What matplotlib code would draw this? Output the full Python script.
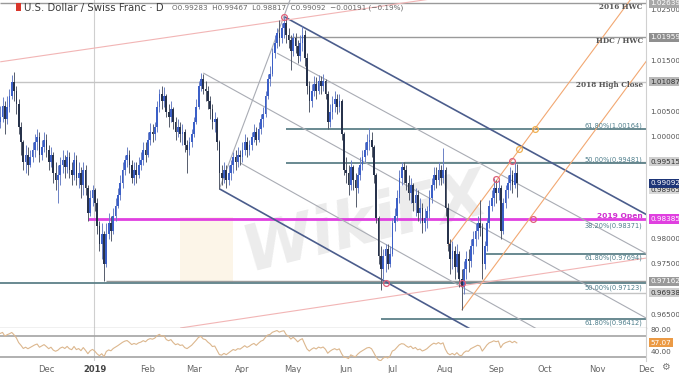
import numpy as np
import pandas as pd
import matplotlib
matplotlib.use("Agg")
import matplotlib.pyplot as plt
import matplotlib.transforms as mtransforms
from matplotlib.patches import Rectangle

# ---------------- data ----------------
start_date = "2018-11-05"
warmup_closes = [0.9830, 0.9850, 0.9865, 0.9855, 0.9870, 0.9880, 0.9900, 0.9890,
                 0.9880, 0.9900, 0.9920, 0.9930, 0.9950, 0.9935, 0.9955, 0.9960,
                 0.9950, 0.9975, 0.9990, 1.0005, 1.0040, 1.0075, 1.0010, 1.0030]

closes = [
    1.0040, 1.0062, 1.0035, 1.0060, 1.0080,  1.0108, 1.0090, 1.0065, 1.0020, 0.9990,
    0.9950, 0.9965, 0.9945, 0.9960, 0.9975,  0.9990, 1.0000, 0.9965, 0.9980, 0.9995,
    0.9975, 0.9950, 0.9965, 0.9930, 0.9915,  0.9925, 0.9945, 0.9955, 0.9940, 0.9960,
    0.9935, 0.9925, 0.9955, 0.9920, 0.9930,  0.9905, 0.9935, 0.9900, 0.9850, 0.9880,
    0.9895, 0.9870, 0.9825, 0.9790, 0.9810,  0.9750, 0.9810, 0.9830, 0.9815, 0.9845,
    0.9865, 0.9885, 0.9910, 0.9935, 0.9955,  0.9965, 0.9945, 0.9920, 0.9935, 0.9925,
    0.9945, 0.9955, 0.9975, 0.9965, 0.9995,  1.0010, 1.0005, 1.0020, 1.0060, 1.0085,
    1.0070, 1.0080, 1.0050, 1.0040, 1.0055,  1.0030, 1.0010, 1.0020, 1.0005, 1.0010,
    0.9985, 0.9975, 0.9990, 1.0005, 1.0030,  1.0060, 1.0100, 1.0115, 1.0095, 1.0090,
    1.0070, 1.0055, 1.0030, 1.0035, 0.9990,  0.9930, 0.9920, 0.9935, 0.9915, 0.9930,
    0.9945, 0.9960, 0.9950, 0.9965, 0.9960,  0.9975, 0.9990, 0.9975, 0.9985, 1.0000,
    1.0010, 0.9995, 1.0015, 1.0035, 1.0045,  1.0080, 1.0115, 1.0125, 1.0165, 1.0185,
    1.0205, 1.0195, 1.0215, 1.0225, 1.0200,  1.0190, 1.0170, 1.0195, 1.0180, 1.0160,
    1.0185, 1.0200, 1.0155, 1.0100, 1.0070,  1.0090, 1.0105, 1.0090, 1.0110, 1.0100,
    1.0110, 1.0085, 1.0030, 1.0050, 1.0065,  1.0075, 1.0060, 1.0070, 1.0005, 0.9935,
    0.9930, 0.9905, 0.9940, 0.9915, 0.9900,  0.9925, 0.9945, 0.9960, 0.9975, 0.9990,
    0.9995, 0.9980, 0.9925, 0.9840, 0.9765,  0.9740, 0.9765, 0.9780, 0.9750, 0.9770,
    0.9830, 0.9845, 0.9880, 0.9920, 0.9940,  0.9935, 0.9910, 0.9890, 0.9905, 0.9870,
    0.9885, 0.9850, 0.9860, 0.9830, 0.9840,  0.9855, 0.9880, 0.9905, 0.9925, 0.9915,
    0.9935, 0.9920, 0.9935, 0.9860, 0.9790,  0.9760, 0.9775, 0.9745, 0.9770, 0.9720,
    0.9705, 0.9740, 0.9760, 0.9755, 0.9785,  0.9800, 0.9815, 0.9830, 0.9820, 0.9750,
    0.9785, 0.9830, 0.9865, 0.9880, 0.9900,  0.9890, 0.9900, 0.9815, 0.9870, 0.9895,
    0.9910, 0.9925, 0.9905, 0.99283, 0.99092]

highs = [
    1.0062, 1.0078, 1.0070, 1.0080, 1.0095,  1.0122, 1.0128, 1.0100, 1.0075, 1.0030,
    0.9995, 0.9985, 0.9980, 0.9975, 0.9990,  1.0005, 1.0015, 1.0010, 0.9995, 1.0010,
    1.0005, 0.9985, 0.9980, 0.9970, 0.9950,  0.9945, 0.9960, 0.9975, 0.9965, 0.9975,
    0.9970, 0.9950, 0.9970, 0.9965, 0.9950,  0.9940, 0.9950, 0.9945, 0.9905, 0.9895,
    0.9905, 0.9900, 0.9880, 0.9835, 0.9830,  0.9815, 0.9830, 0.9850, 0.9845, 0.9860,
    0.9880, 0.9900, 0.9925, 0.9950, 0.9965,  0.9980, 0.9975, 0.9955, 0.9950, 0.9950,
    0.9960, 0.9970, 0.9990, 0.9990, 1.0010,  1.0028, 1.0025, 1.0030, 1.0070, 1.0095,
    1.0100, 1.0098, 1.0085, 1.0065, 1.0070,  1.0060, 1.0040, 1.0035, 1.0030, 1.0025,
    1.0015, 0.9995, 1.0000, 1.0015, 1.0040,  1.0075, 1.0110, 1.0126, 1.0125, 1.0110,
    1.0100, 1.0080, 1.0065, 1.0050, 1.0040,  0.9995, 0.9945, 0.9950, 0.9945, 0.9945,
    0.9955, 0.9970, 0.9975, 0.9980, 0.9975,  0.9990, 1.0005, 1.0000, 0.9995, 1.0010,
    1.0025, 1.0020, 1.0030, 1.0045, 1.0060,  1.0090, 1.0125, 1.0140, 1.0175, 1.0200,
    1.0215, 1.0230, 1.0225, 1.0237, 1.0232,  1.0215, 1.0200, 1.0205, 1.0205, 1.0190,
    1.0200, 1.0218, 1.0210, 1.0165, 1.0110,  1.0105, 1.0120, 1.0118, 1.0122, 1.0120,
    1.0125, 1.0115, 1.0090, 1.0065, 1.0080,  1.0090, 1.0085, 1.0085, 1.0075, 1.0010,
    0.9960, 0.9945, 0.9955, 0.9945, 0.9930,  0.9940, 0.9960, 0.9975, 0.9990, 1.0005,
    1.0018, 1.0010, 0.9985, 0.9930, 0.9845,  0.9785, 0.9780, 0.9790, 0.9790, 0.9785,
    0.9840, 0.9860, 0.9895, 0.9935, 0.9951,  0.9950, 0.9945, 0.9925, 0.9920, 0.9910,
    0.9900, 0.9895, 0.9880, 0.9870, 0.9860,  0.9865, 0.9895, 0.9920, 0.9940, 0.9940,
    0.9950, 0.9945, 0.9978, 0.9940, 0.9870,  0.9800, 0.9795, 0.9785, 0.9790, 0.9775,
    0.9740, 0.9755, 0.9775, 0.9780, 0.9800,  0.9815, 0.9830, 0.9845, 0.9876, 0.9830,
    0.9795, 0.9840, 0.9875, 0.9895, 0.9919,  0.9915, 0.9915, 0.9905, 0.9880, 0.9905,
    0.9925, 0.9940, 0.9935, 0.9953, 0.99467]

lows = [
    1.0018, 1.0030, 1.0005, 1.0025, 1.0050,  1.0075, 1.0070, 1.0045, 1.0005, 0.9965,
    0.9935, 0.9930, 0.9925, 0.9940, 0.9950,  0.9960, 0.9975, 0.9950, 0.9955, 0.9970,
    0.9960, 0.9935, 0.9940, 0.9910, 0.9895,  0.9870, 0.9905, 0.9930, 0.9920, 0.9930,
    0.9920, 0.9905, 0.9915, 0.9905, 0.9900,  0.9880, 0.9885, 0.9885, 0.9835, 0.9845,
    0.9865, 0.9855, 0.9810, 0.9775, 0.9760,  0.9716, 0.9745, 0.9800, 0.9795, 0.9810,
    0.9835, 0.9860, 0.9875, 0.9900, 0.9925,  0.9940, 0.9930, 0.9910, 0.9905, 0.9910,
    0.9920, 0.9935, 0.9945, 0.9950, 0.9960,  0.9985, 0.9990, 0.9995, 1.0010, 1.0050,
    1.0055, 1.0060, 1.0040, 1.0020, 1.0030,  1.0015, 0.9995, 1.0000, 0.9990, 0.9985,
    0.9970, 0.9930, 0.9965, 0.9980, 1.0000,  1.0025, 1.0055, 1.0090, 1.0085, 1.0070,
    1.0055, 1.0035, 1.0015, 1.0010, 0.9975,  0.9898, 0.9905, 0.9910, 0.9900, 0.9905,
    0.9915, 0.9930, 0.9935, 0.9940, 0.9945,  0.9950, 0.9965, 0.9960, 0.9965, 0.9975,
    0.9990, 0.9985, 0.9990, 1.0005, 1.0020,  1.0040, 1.0075, 1.0100, 1.0120, 1.0155,
    1.0175, 1.0180, 1.0185, 1.0195, 1.0185,  1.0175, 1.0132, 1.0160, 1.0165, 1.0145,
    1.0150, 1.0170, 1.0140, 1.0085, 1.0050,  1.0060, 1.0080, 1.0075, 1.0085, 1.0085,
    1.0090, 1.0075, 1.0015, 1.0020, 1.0035,  1.0050, 1.0045, 1.0050, 0.9995, 0.9925,
    0.9910, 0.9885, 0.9895, 0.9895, 0.9862,  0.9890, 0.9915, 0.9935, 0.9950, 0.9965,
    0.9975, 0.9960, 0.9910, 0.9830, 0.9750,  0.9699, 0.9720, 0.9735, 0.9740, 0.9745,
    0.9765, 0.9815, 0.9835, 0.9870, 0.9905,  0.9910, 0.9895, 0.9875, 0.9870, 0.9855,
    0.9845, 0.9835, 0.9830, 0.9812, 0.9815,  0.9820, 0.9840, 0.9870, 0.9895, 0.9900,
    0.9905, 0.9905, 0.9910, 0.9845, 0.9775,  0.9730, 0.9740, 0.9720, 0.9735, 0.9705,
    0.9659, 0.9690, 0.9720, 0.9735, 0.9745,  0.9770, 0.9785, 0.9800, 0.9805, 0.9720,
    0.9740, 0.9775, 0.9820, 0.9855, 0.9865,  0.9870, 0.9875, 0.9800, 0.9810, 0.9860,
    0.9880, 0.9895, 0.9890, 0.9900, 0.98817]

# horizontal levels: (price, start date, kind)
levels = [
    (1.02639, "2018-11-05", "gray"),
    (1.01959, "2019-04-29", "gray"),
    (1.01087, "2018-11-13", "lgray"),
    (1.00164, "2019-04-26", "fib"),
    (0.99515, "2019-07-08", "lgray"),
    (0.99481, "2019-04-26", "fib"),
    (0.98385, "2018-12-27", "open"),
    (0.97694, "2019-08-26", "fib"),
    (0.97162, "2019-01-08", "gray"),
    (0.97123, "2018-11-05", "fib"),
    (0.96938, "2019-08-12", "lgray"),
    (0.96412, "2019-06-24", "fib"),
]
level_texts = [
    ("2016 HWC", 1.02639, -3.0, "name"),
    ("HDC / HWC", 1.01959, -2.6, "name"),
    ("2018 High Close", 1.01087, -2.4, "name"),
    ("61.80%(1.00164)", 1.00164, 2.0, "fib"),
    ("50.00%(0.99481)", 0.99481, 2.4, "fib"),
    ("2019 Open", 0.98385, 2.2, "open"),
    ("38.20%(0.98371)", 0.98371, -4.0, "fib"),
    ("61.80%(0.97694)", 0.97694, -2.4, "fib"),
    ("50.00%(0.97123)", 0.97123, -3.4, "fib"),
    ("61.80%(0.96412)", 0.96412, -2.4, "fib"),
]
# trend / channel lines: (date1, price1, date2, price2, kind)
trendlines = [
    ("2019-04-25", 1.0237, "2019-11-29", 0.9850, "navy"),
    ("2019-03-07", 1.0126, "2019-11-29", 0.9646, "grayline"),
    ("2019-04-22", 1.0165, "2019-11-29", 0.9773, "grayline"),
    ("2019-03-18", 0.9898, "2019-08-30", 0.9596, "navy"),
    ("2019-03-29", 0.9949, "2019-09-30", 0.9616, "grayline"),
    ("2019-03-18", 0.9898, "2019-04-24", 1.0226, "grayline"),
    ("2019-08-02", 0.9785, "2019-09-25", 1.0018, "orange"),
    ("2019-08-12", 0.9659, "2019-11-29", 1.0143, "orange"),
    ("2018-11-05", 1.0148, "2019-07-19", 1.0270, "pink"),
    ("2019-02-21", 0.9624, "2019-11-29", 0.9761, "pink"),
]
markers = [
    ("2019-04-25", 1.0237, "red"), ("2019-06-26", 0.9712, "red"),
    ("2019-08-12", 0.9712, "red"), ("2019-09-02", 0.9917, "red"),
    ("2019-09-11", 0.9952, "red"), ("2019-09-16", 0.9976, "orange"),
    ("2019-09-25", 1.0016, "orange"), ("2019-09-24", 0.98385, "red"),
]
axis_plain = [1.02500, 1.01500, 1.00500, 1.00000, 0.98000, 0.97500, 0.96500]
axis_boxes = [
    (1.02639, "#a8a8a8", "white"), (1.01959, "#8f8f8f", "white"),
    (1.01087, "#b9b9b9", "#333333"), (0.99515, "#cfcfcf", "#333333"),
    (0.98965, "#d8d8d8", "#333333"), (0.99092, "#1d3577", "white"),
    (0.98385, "#e040e0", "white"), (0.97162, "#9a9a9a", "white"),
    (0.96938, "#cfcfcf", "#333333"),
]
month_labels = [("2018-12-03", "Dec"), ("2019-01-01", "2019"), ("2019-02-01", "Feb"),
                ("2019-03-01", "Mar"), ("2019-04-01", "Apr"), ("2019-05-01", "May"),
                ("2019-06-03", "Jun"), ("2019-07-01", "Jul"), ("2019-08-01", "Aug"),
                ("2019-09-02", "Sep"), ("2019-10-01", "Oct"), ("2019-11-01", "Nov"),
                ("2019-12-02", "Dec")]
rsi_last_label = 57.07
header = "U.S. Dollar / Swiss Franc · D"
ohlc_text = "O0.99283  H0.99467  L0.98817  C0.99092  −0.00191 (−0.19%)"

# ---------------- figure ----------------
W, H = 679, 373
fig = plt.figure(figsize=(W / 100, H / 100), dpi=100)
fig.patch.set_facecolor("white")
PX_R, PX_MB, PX_RB = 646, 328, 361
ax = fig.add_axes([0, 1 - PX_MB / H, PX_R / W, PX_MB / H])
rax = fig.add_axes([0, 1 - PX_RB / H, PX_R / W, (PX_RB - PX_MB) / H])

cal = pd.bdate_range(start_date, "2019-12-31")
def bar(d):
    return float(cal.get_loc(pd.Timestamp(d)))

n = len(closes)
xs = np.arange(n)
o = np.array([warmup_closes[-1]] + closes[:-1])
c = np.array(closes)
h = np.array(highs)
l = np.array(lows)

XR = PX_R / 2.308
ax.set_xlim(-0.1, XR)
ax.set_ylim(0.96240, 1.02697)
rax.set_xlim(-0.1, XR)
rax.set_ylim(22.5, 84.5)

colors = {"gray": "#9a9a9a", "lgray": "#c4c4c4", "fib": "#5d8088", "open": "#e040e0",
          "navy": "#4b5d8c", "grayline": "#a9acb4", "orange": "#f2a872", "pink": "#f2b5b5",
          "red": "#e0607a"}

# horizontal levels
for p, d, k in levels:
    lw = 2.0 if k == "open" else (1.3 if k == "fib" else 1.0)
    ax.hlines(p, bar(d), XR, colors=colors[k], lw=lw, zorder=2)

# trend lines (extended to right edge)
for d1, p1, d2, p2, k in trendlines:
    b1, b2 = bar(d1), bar(d2)
    slope = (p2 - p1) / (b2 - b1)
    xe = XR + 1
    lw = 1.2 if k == "navy" else 0.8
    ax.plot([b1, xe], [p1, p1 + slope * (xe - b1)], color=colors[k], lw=lw, zorder=2,
            solid_capstyle="butt")

# 2019 separator
ysep = bar("2019-01-01") - 0.5
ax.axvline(ysep, color="#cfcfcf", lw=0.8, zorder=1)
rax.axvline(ysep, color="#cfcfcf", lw=0.8, zorder=1)

# watermark
ax.text(bar("2019-06-24") - 7, 0.9830, "WikiFX", fontsize=46, fontweight="bold",
        color="#c8c8c8", alpha=0.35, rotation=14, ha="center", va="center", zorder=1,
        style="italic")
ax.add_patch(Rectangle((bar("2019-02-21"), 0.9713), 23, 0.0130,
                       fc="#f2d49a", ec="none", alpha=0.22, zorder=1))

# candles
up = c >= o
body_col = np.where(up, "#3b5fc7", "#27324b")
wick_col = np.where(up, "#6c82c6", "#555c6c")
ax.vlines(xs, np.minimum(l, np.minimum(o, c)), np.maximum(h, np.maximum(o, c)),
          colors=wick_col, lw=0.7, zorder=3)
bot = np.minimum(o, c)
hgt = np.maximum(np.abs(c - o), 0.00012)
ax.bar(xs, hgt, bottom=bot, width=0.75, color=body_col, linewidth=0, zorder=4)

# circles
for d, p, k in markers:
    ax.plot(bar(d), p, "o", ms=4.2, mfc="none", mec=colors[k] if k == "red" else "#f0b050",
            mew=0.9, zorder=5)

# level texts
blend = mtransforms.blended_transform_factory(ax.transAxes, ax.transData)
for txt, p, off, k in level_texts:
    if k == "name":
        kw = dict(fontsize=5.2, color="#555555", fontweight="bold", family="DejaVu Serif")
    elif k == "open":
        kw = dict(fontsize=5.4, color="#d030d0", fontweight="bold")
    else:
        kw = dict(fontsize=4.8, color="#4f7f8c")
    ax.annotate(txt, xy=(0.995, p), xycoords=blend, xytext=(0, off),
                textcoords="offset points", ha="right", va="center", zorder=6, **kw)

# right axis labels
def rlabel(axis, val, txt, fc=None, tc="#555555"):
    tr = mtransforms.blended_transform_factory(axis.transAxes, axis.transData)
    kw = dict(fontsize=5.2, color=tc, ha="left", va="center", transform=tr, clip_on=False)
    if fc:
        kw["bbox"] = dict(boxstyle="square,pad=0.22", fc=fc, ec="none")
    axis.text(1.0065, val, txt, **kw)

for v in axis_plain:
    rlabel(ax, v, f"{v:.5f}")
for v, fc, tc in axis_boxes:
    rlabel(ax, v, f"{v:.5f}", fc, tc)

# RSI
allc = pd.Series(warmup_closes + closes)
dlt = allc.diff()
gain = dlt.clip(lower=0).ewm(alpha=1 / 14, adjust=False).mean()
loss = (-dlt.clip(upper=0)).ewm(alpha=1 / 14, adjust=False).mean()
rsi = (100 - 100 / (1 + gain / loss)).to_numpy()[len(warmup_closes):]
rax.plot(xs, rsi, color="#dcb78e", lw=0.8, zorder=3)
rax.axhline(70, color="#a3a3a3", lw=1.2, zorder=2)
rax.axhline(30, color="#a3a3a3", lw=1.2, zorder=2)
rlabel(rax, 80, "80.00")
rlabel(rax, 40, "40.00")
rlabel(rax, rsi_last_label, f"{rsi_last_label:.2f}", "#eb9a45", "white")

# spines
for a in (ax, rax):
    for s in ("top", "left"):
        a.spines[s].set_visible(False)
    a.spines["right"].set_color("#d0d0d0")
    a.spines["right"].set_linewidth(0.8)
    a.set_yticks([])
ax.spines["bottom"].set_color("#b5b5b5")
ax.spines["bottom"].set_linewidth(1.0)
ax.set_xticks([])
rax.spines["bottom"].set_visible(False)

tick_pos = [bar(d) for d, _ in month_labels]
rax.set_xticks(tick_pos)
rax.set_xticklabels([t for _, t in month_labels], fontsize=6, color="#666666")
for lab in rax.get_xticklabels():
    if lab.get_text() == "2019":
        lab.set_fontweight("bold")
        lab.set_color("#444444")
rax.tick_params(axis="x", length=0, pad=3)

# header
fig.patches.append(Rectangle((15.5 / W, 1 - 11 / H), 5 / W, 8 / H, transform=fig.transFigure,
                             fc="#d9362b", ec="none"))
fig.text(24 / W, 1 - 7.5 / H, header, fontsize=7.3, color="#3a3a3a", va="center")
fig.text(172 / W, 1 - 7.5 / H, ohlc_text, fontsize=5.2, color="#666666", va="center")
fig.text(665 / W, 1 - 367 / H, "⚙", fontsize=7, color="#777777", ha="center", va="center")

fig.savefig("out.png", dpi=100, facecolor="white")
